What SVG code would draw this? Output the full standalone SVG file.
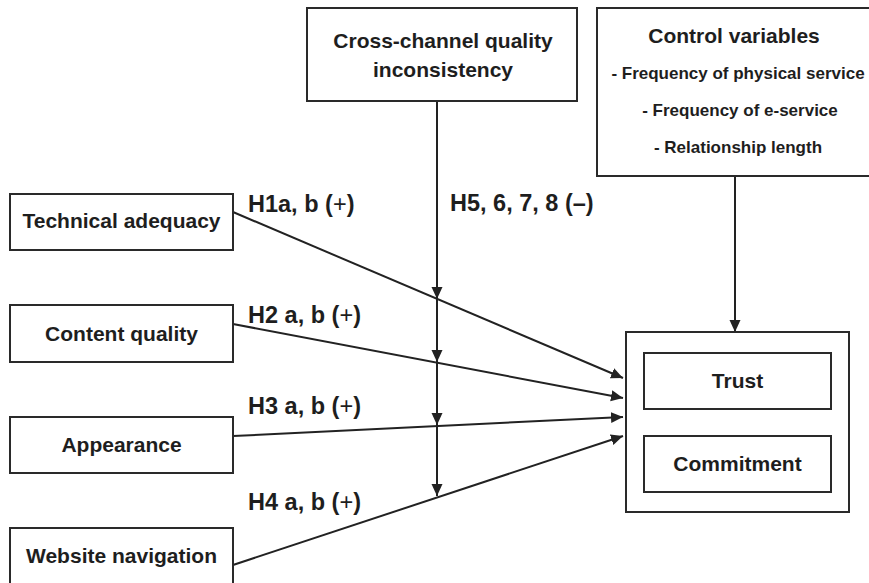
<svg xmlns="http://www.w3.org/2000/svg" width="869" height="583" viewBox="0 0 869 583">
<style>
.box{fill:#fff;stroke:#2a2a2a;stroke-width:2}
.t{font-family:"Liberation Sans",Arial,sans-serif;font-weight:bold;font-size:21px;fill:#1e1e1e;text-anchor:middle}
.s{font-family:"Liberation Sans",Arial,sans-serif;font-weight:bold;font-size:17px;fill:#1e1e1e;text-anchor:middle}
.h{font-family:"Liberation Sans",Arial,sans-serif;font-weight:bold;font-size:23.5px;fill:#1e1e1e}
.p{font-weight:normal}
.c{fill:none;stroke:#222;stroke-width:2;marker-end:url(#ah)}
</style>
<defs>
<marker id="ah" markerUnits="userSpaceOnUse" markerWidth="12" markerHeight="12" refX="12" refY="6" orient="auto">
<path d="M0,0.5 L12,6 L0,11.5 z" fill="#222"/>
</marker>
</defs>
<rect width="869" height="583" fill="#fff"/>
<g id="connectors">
<line class="c" x1="437" y1="101" x2="437" y2="299"/>
<line class="c" x1="437" y1="299" x2="437" y2="362"/>
<line class="c" x1="437" y1="362" x2="437" y2="425"/>
<line class="c" x1="437" y1="425" x2="437" y2="496"/>
<line class="c" x1="233" y1="212" x2="623" y2="378"/>
<line class="c" x1="233" y1="324" x2="623" y2="398"/>
<line class="c" x1="233" y1="436" x2="623" y2="417"/>
<line class="c" x1="233" y1="565" x2="623" y2="436"/>
<line class="c" x1="735" y1="176" x2="735" y2="332"/>
</g>
<g id="labels">
<text class="h" x="248" y="212">H1a, b (<tspan class="p">+</tspan>)</text>
<text class="h" x="248" y="323">H2 a, b (<tspan class="p">+</tspan>)</text>
<text class="h" x="248" y="414">H3 a, b (<tspan class="p">+</tspan>)</text>
<text class="h" x="248" y="510">H4 a, b (<tspan class="p">+</tspan>)</text>
<text class="h" x="450" y="211">H5, 6, 7, 8 (–)</text>
</g>
<g id="cross">
<rect class="box" x="307" y="8" width="270" height="93"/>
<text class="t" x="443" y="48">Cross-channel quality</text>
<text class="t" x="443" y="77">inconsistency</text>
</g>
<g id="control">
<rect class="box" x="597" y="8" width="280" height="168"/>
<text class="t" x="734" y="43">Control variables</text>
<text class="s" x="738" y="79">- Frequency of physical service</text>
<text class="s" x="740" y="116">- Frequency of e-service</text>
<text class="s" x="738" y="153">- Relationship length</text>
</g>
<g id="technical">
<rect class="box" x="10" y="194" width="223" height="56"/>
<text class="t" x="121.5" y="228">Technical adequacy</text>
</g>
<g id="content">
<rect class="box" x="10" y="305" width="223" height="57"/>
<text class="t" x="121.5" y="341">Content quality</text>
</g>
<g id="appearance">
<rect class="box" x="10" y="417" width="223" height="56"/>
<text class="t" x="121.5" y="452">Appearance</text>
</g>
<g id="navigation">
<rect class="box" x="10" y="528" width="223" height="62"/>
<text class="t" x="121.5" y="563">Website navigation</text>
</g>
<g id="outcomes">
<rect class="box" x="626" y="332" width="223" height="180"/>
</g>
<g id="trust">
<rect class="box" x="644" y="353" width="187" height="56"/>
<text class="t" x="737.5" y="388">Trust</text>
</g>
<g id="commitment">
<rect class="box" x="644" y="436" width="187" height="56"/>
<text class="t" x="737.5" y="471">Commitment</text>
</g>
</svg>
